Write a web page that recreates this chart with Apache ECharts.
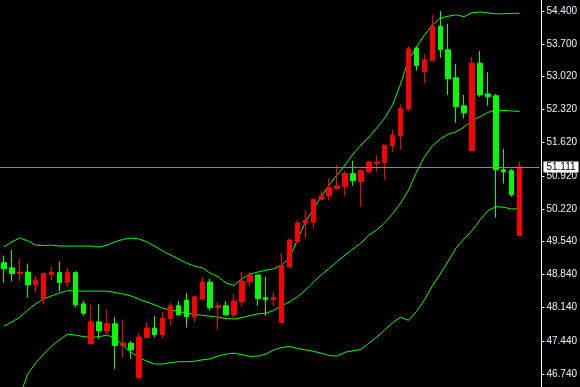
<!DOCTYPE html>
<html>
<head>
<meta charset="utf-8">
<script src="https://cdn.jsdelivr.net/npm/echarts@6/dist/echarts.min.js"></script>
<style>
html,body{margin:0;padding:0;background:#000;}
#chart{width:580px;height:387px;}
</style>
</head>
<body>
<div id="chart"></div>
<script>
// [open, close, low, high]
var candles = [
  [49.09,48.96,48.67,49.24],[48.98,48.86,48.70,49.36],[48.86,48.89,48.70,49.17],[48.89,48.62,48.35,49.07],
  [48.62,48.72,48.46,48.81],[48.32,48.86,48.20,48.88],[48.84,48.88,48.72,49.00],[48.88,48.67,48.48,49.12],
  [48.67,48.88,48.58,48.98],[48.88,48.20,48.14,48.91],[48.22,48.02,47.97,48.28],[47.38,47.84,47.38,48.20],
  [47.84,47.65,47.47,48.22],[47.65,47.80,47.56,48.11],[47.80,47.34,46.85,47.94],[47.34,47.39,47.08,47.88],
  [47.39,47.25,47.06,47.44],[46.66,47.52,46.66,47.61],[47.51,47.71,47.51,47.84],[47.71,47.57,47.51,47.96],
  [47.57,47.92,47.49,48.05],[47.91,48.18,47.76,48.24],[48.18,47.99,47.97,48.28],[48.30,47.95,47.72,48.45],
  [47.95,48.37,47.84,48.37],[48.32,48.68,48.32,48.79],[48.68,48.14,48.08,48.75],[48.14,48.18,47.67,48.26],
  [48.18,47.99,47.97,48.28],[47.99,48.28,47.91,48.43],[48.27,48.70,48.16,48.89],[48.68,48.83,48.58,48.89],
  [48.83,48.33,48.18,48.83],[48.35,48.31,47.97,48.79],[48.31,48.35,48.18,48.47],[47.82,49.03,47.82,49.29],
  [49.00,49.57,48.98,49.59],[49.53,49.93,49.53,49.99],[49.93,49.98,49.60,50.20],[49.95,50.43,49.81,50.43],
  [50.43,50.50,50.42,50.60],[50.50,50.67,50.40,50.86],[50.65,50.71,50.63,51.15],[50.69,50.97,50.50,51.02],
  [50.97,50.82,50.71,51.24],[50.80,51.03,50.27,51.05],[51.01,51.21,50.97,51.24],[51.18,51.21,51.01,51.36],
  [51.20,51.57,50.84,51.57],[51.56,51.78,51.43,51.89],[51.77,52.35,51.47,52.43],[52.33,53.60,52.28,53.66],
  [53.62,53.25,53.14,53.66],[53.12,53.37,52.87,53.49],[53.35,54.08,53.35,54.32],[54.08,53.58,53.41,54.40],
  [53.58,52.97,52.63,54.13],[52.99,52.38,52.04,53.28],[52.40,52.25,52.13,52.63],[51.45,53.30,51.45,53.43],
  [53.30,52.63,52.59,53.56],[52.65,52.59,52.40,53.11],[52.61,51.05,50.04,52.65],[51.05,51.01,50.76,51.49],
  [51.03,50.52,50.48,51.07],[49.66,51.111,49.66,51.22]
];
var upperBand = [
  49.42,49.53,49.61,49.55,49.46,49.45,49.46,49.44,49.44,49.44,49.44,49.44,49.42,49.46,49.53,49.58,
  49.61,49.59,49.53,49.44,49.34,49.25,49.17,49.08,49.02,48.98,48.87,48.79,48.66,48.61,48.75,48.85,
  48.89,48.93,48.96,49.04,49.19,49.57,49.95,50.22,50.48,50.73,50.94,51.15,51.38,51.57,51.74,51.93,
  52.14,52.42,52.86,53.37,53.64,53.89,54.10,54.25,54.29,54.32,54.28,54.36,54.38,54.36,54.34,54.34,
  54.35,54.35
];
var middleBand = [
  47.75,47.84,47.94,48.09,48.22,48.32,48.39,48.45,48.50,48.49,48.49,48.49,48.49,48.49,48.46,48.43,
  48.39,48.32,48.26,48.20,48.13,48.09,48.06,48.03,48.00,47.98,47.96,47.94,47.91,47.90,47.93,47.97,
  48.01,48.02,48.08,48.18,48.26,48.37,48.51,48.68,48.83,48.97,49.11,49.25,49.38,49.50,49.67,49.78,
  49.93,50.12,50.35,50.62,51.00,51.32,51.55,51.70,51.80,51.85,51.95,52.08,52.17,52.26,52.31,52.30,
  52.29,52.28
];
var lowerBand = [
  45.35,45.81,46.28,46.74,46.97,47.16,47.33,47.46,47.58,47.56,47.53,47.51,47.53,47.56,47.50,47.35,
  47.20,47.09,47.01,46.95,46.95,46.98,47.00,47.00,47.01,47.04,47.06,47.12,47.16,47.18,47.15,47.11,
  47.12,47.16,47.25,47.30,47.32,47.28,47.25,47.22,47.18,47.13,47.12,47.20,47.23,47.26,47.39,47.52,
  47.67,47.82,47.94,47.87,48.06,48.30,48.60,48.85,49.12,49.40,49.59,49.76,49.99,50.18,50.27,50.26,
  50.22,50.23
];
var yTicks = [46.74,47.44,48.14,48.84,49.54,50.22,50.92,51.62,52.32,53.02,53.70,54.40];
var lastPrice = 51.111;

var cats = [];
for (var i = 0; i < candles.length + 2; i++) cats.push(String(i));

var chart = echarts.init(document.getElementById('chart'), null, {renderer: 'canvas'});
chart.setOption({
  animation: false,
  backgroundColor: '#000000',
  grid: {left: 0, right: 36, top: 0, bottom: 0},
  xAxis: {
    type: 'category',
    data: cats,
    boundaryGap: true,
    axisLine: {show: false},
    axisTick: {show: false},
    axisLabel: {show: false},
    splitLine: {show: false}
  },
  yAxis: {
    type: 'value',
    position: 'right',
    offset: 2,
    min: 46.466,
    max: 54.632,
    axisLine: {show: true, lineStyle: {color: '#ffffff', width: 1}},
    axisTick: {show: true, inside: false, length: 3, customValues: yTicks, lineStyle: {color: '#ffffff'}},
    axisLabel: {
      show: true,
      customValues: yTicks,
      margin: 5,
      color: '#eef0ff',
      fontFamily: 'Liberation Sans',
      fontSize: 10,
      formatter: function (v) { return v.toFixed(3); }
    },
    splitLine: {show: false}
  },
  series: [
    {
      type: 'candlestick',
      data: candles,
      barWidth: 5,
      itemStyle: {
        color: '#ff0000',
        color0: '#00ff00',
        borderColor: '#ff0000',
        borderColor0: '#00ff00',
        borderWidth: 1
      },
      markLine: {
        silent: true,
        symbol: ['none', 'none'],
        lineStyle: {color: '#7a8a9c', type: 'solid', width: 1},
        label: {
          show: true,
          position: 'end',
          distance: 4,
          formatter: function () { return lastPrice.toFixed(3); },
          backgroundColor: '#ffffff',
          color: '#000000',
          fontFamily: 'Liberation Sans',
          fontSize: 10,
          padding: [0, 3, 0, 3],
          lineHeight: 11
        },
        data: [{yAxis: lastPrice}]
      }
    },
    {type: 'line', data: upperBand, showSymbol: false, symbol: 'none', lineStyle: {color: '#00ff00', width: 1}, z: 1},
    {type: 'line', data: middleBand, showSymbol: false, symbol: 'none', lineStyle: {color: '#00ff00', width: 1}, z: 1},
    {type: 'line', data: lowerBand, showSymbol: false, symbol: 'none', lineStyle: {color: '#00ff00', width: 1}, z: 1}
  ]
});
</script>
</body>
</html>
